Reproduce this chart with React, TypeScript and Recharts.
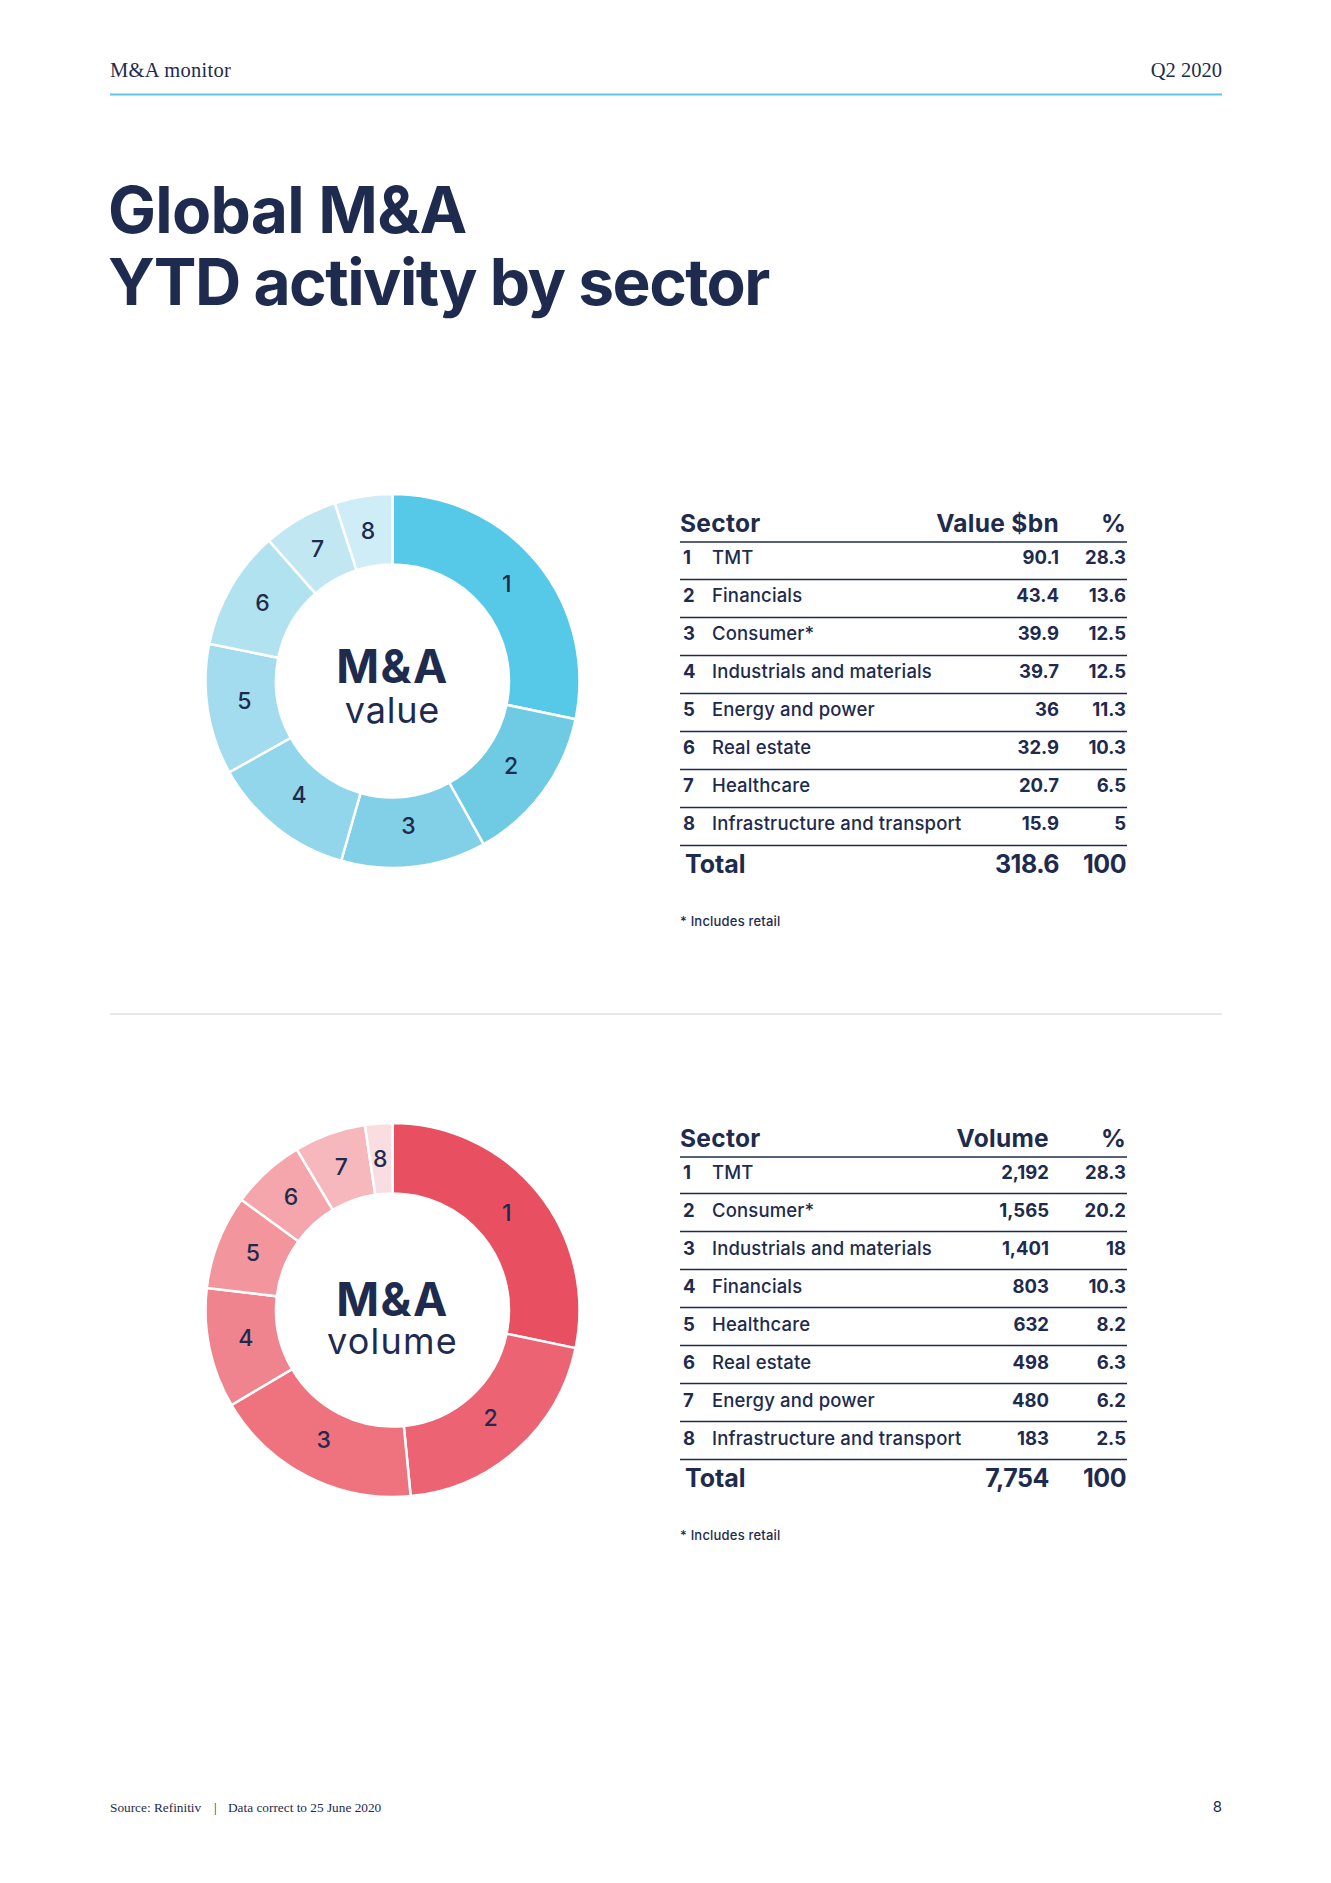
import { PieChart, Pie, Cell } from "recharts";

const NAVY = "#1E2B4E";
const SANS = "Inter, 'Noto Sans', sans-serif";
const SERIF = "'Liberation Serif', serif";

// --- data ---
const valueSectors = [
  "TMT",
  "Financials",
  "Consumer*",
  "Industrials and materials",
  "Energy and power",
  "Real estate",
  "Healthcare",
  "Infrastructure and transport",
];
const valueAmounts = [90.1, 43.4, 39.9, 39.7, 36, 32.9, 20.7, 15.9];
const valuePct = [28.3, 13.6, 12.5, 12.5, 11.3, 10.3, 6.5, 5];
const valueTotal = "318.6";

const volumeSectors = [
  "TMT",
  "Consumer*",
  "Industrials and materials",
  "Financials",
  "Healthcare",
  "Real estate",
  "Energy and power",
  "Infrastructure and transport",
];
const volumeCounts = [2192, 1565, 1401, 803, 632, 498, 480, 183];
const volumePct = [28.3, 20.2, 18, 10.3, 8.2, 6.3, 6.2, 2.5];
const volumeTotal = "7,754";

const blues = ["#57C9E8", "#6FCAE3", "#81D0E7", "#91D6EA", "#A2DCEE", "#B1E2F0", "#C1E7F3", "#CFEDF6"];
const reds = ["#E85061", "#EC6373", "#EE737F", "#F0848E", "#F2959D", "#F4A6AC", "#F6B8BD", "#FADDE0"];

const RADIAN = Math.PI / 180;

function sliceNumber(props: any) {
  const { cx, cy, midAngle, innerRadius, outerRadius, index } = props;
  const r = (innerRadius + outerRadius) / 2 - 3;
  const x = cx + r * Math.cos(-midAngle * RADIAN) - 1;
  const y = cy + r * Math.sin(-midAngle * RADIAN) - 3;
  return (
    <text
      x={x}
      y={y}
      fill={NAVY}
      textAnchor="middle"
      dominantBaseline="central"
      fontFamily={SANS}
      fontSize={23}
      fontWeight={500}
      letterSpacing={0.5}
    >
      {index + 1}
    </text>
  );
}

function Donut({ names, values, colors, centerY }: { names: string[]; values: number[]; colors: string[]; centerY: number }) {
  const data = names.map((name, i) => ({ name, value: values[i] }));
  return (
    <div style={{ position: "absolute", left: 192, top: centerY - 200 }}>
      <PieChart width={401} height={400} margin={{ top: 0, right: 0, bottom: 0, left: 0 }}>
        <Pie
          data={data}
          dataKey="value"
          cx={200.5}
          cy={200}
          startAngle={90}
          endAngle={-270}
          innerRadius={116.5}
          outerRadius={187}
          stroke="#ffffff"
          strokeWidth={2.5}
          label={sliceNumber}
          labelLine={false}
          isAnimationActive={false}
        >
          {data.map((d, i) => (
            <Cell key={d.name} fill={colors[i]} />
          ))}
        </Pie>
      </PieChart>
    </div>
  );
}

function SectorTable({
  top,
  header,
  valueRight,
  names,
  values,
  pct,
  total,
  rowStart,
  lineOffset,
}: {
  top: number;
  header: string;
  valueRight: number;
  names: string[];
  values: string[];
  pct: number[];
  total: string;
  rowStart: number;
  lineOffset: number;
}) {
  const headerLine = top + 10;
  const totalY = rowStart + 7 * 38 + lineOffset + 27;
  return (
    <g fill={NAVY} fontFamily={SANS}>
      <text x={680} y={top} fontSize={24.5} fontWeight={700} letterSpacing={0.3}>Sector</text>
      <text x={valueRight} y={top} fontSize={24.5} fontWeight={700} letterSpacing={0.3} textAnchor="end">{header}</text>
      <text x={1126} y={top} fontSize={24.5} fontWeight={700} textAnchor="end">%</text>
      <line x1={680} x2={1127} y1={headerLine} y2={headerLine} stroke={NAVY} strokeWidth={1.3} />
      {names.map((n, i) => {
        const y = rowStart + i * 38;
        return (
          <g key={n}>
            <text x={683} y={y} fontSize={18.5} fontWeight={700}>{i + 1}</text>
            <text x={712} y={y} fontSize={18.5} fontWeight={500} letterSpacing={0.15}>{n}</text>
            <text x={valueRight} y={y} fontSize={18.5} fontWeight={700} textAnchor="end">{values[i]}</text>
            <text x={1126} y={y} fontSize={18.5} fontWeight={700} textAnchor="end">{pct[i]}</text>
            <line x1={680} x2={1127} y1={y + lineOffset} y2={y + lineOffset} stroke={NAVY} strokeWidth={1.3} />
          </g>
        );
      })}
      <text x={685} y={totalY} fontSize={25} fontWeight={700}>Total</text>
      <text x={valueRight} y={totalY} fontSize={25} fontWeight={700} letterSpacing={-0.5} textAnchor="end">{total}</text>
      <text x={1126} y={totalY} fontSize={25} fontWeight={700} letterSpacing={-0.5} textAnchor="end">100</text>
      <text x={680} y={totalY + 53} fontSize={13} fontWeight={500} letterSpacing={0.2}>* Includes retail</text>
    </g>
  );
}

export default function App() {
  return (
    <div style={{ position: "absolute", left: 0, top: 0, width: 1331, height: 1883, background: "#fff", overflow: "hidden" }}>
      <svg width={1331} height={1883} style={{ position: "absolute", left: 0, top: 0 }}>
        <text x={110} y={77} fontFamily={SERIF} fontSize={20.5} fill={NAVY} letterSpacing={0.3}>M&amp;A monitor</text>
        <text x={1222} y={77} fontFamily={SERIF} fontSize={20.5} fill={NAVY} textAnchor="end">Q2 2020</text>
        <line x1={110} x2={1222} y1={94.5} y2={94.5} stroke="#5BC8E6" strokeWidth={2} />

        <text x={108} y={233} fontFamily={SANS} fontSize={64} fontWeight={700} fill={NAVY} letterSpacing={-0.7}>Global M&amp;A</text>
        <text x={108} y={305} fontFamily={SANS} fontSize={64} fontWeight={700} fill={NAVY} letterSpacing={-1.5}>YTD activity by sector</text>

        <text x={392.5} y={683} fontFamily={SANS} fontSize={46} fontWeight={700} fill={NAVY} textAnchor="middle" letterSpacing={1.5}>M&amp;A</text>
        <text x={392.5} y={723} fontFamily={SANS} fontSize={36} fontWeight={400} fill={NAVY} textAnchor="middle" letterSpacing={0.8}>value</text>

        <text x={392.5} y={1316} fontFamily={SANS} fontSize={46} fontWeight={700} fill={NAVY} textAnchor="middle" letterSpacing={1.5}>M&amp;A</text>
        <text x={392.5} y={1354} fontFamily={SANS} fontSize={36} fontWeight={400} fill={NAVY} textAnchor="middle" letterSpacing={1.2}>volume</text>

        <SectorTable
          top={532}
          header="Value $bn"
          valueRight={1059}
          names={valueSectors}
          values={valueAmounts.map(String)}
          pct={valuePct}
          total={valueTotal}
          rowStart={564}
          lineOffset={15.5}
        />

        <line x1={110} x2={1222} y1={1014} y2={1014} stroke="#E8E8EA" strokeWidth={2} />

        <SectorTable
          top={1147}
          header="Volume"
          valueRight={1049}
          names={volumeSectors}
          values={volumeCounts.map((v) => v.toLocaleString("en-US"))}
          pct={volumePct}
          total={volumeTotal}
          rowStart={1179}
          lineOffset={14.5}
        />

        <text x={110} y={1812} fontFamily={SERIF} fontSize={13.3} fill={NAVY}>Source: Refinitiv</text>
        <text x={214} y={1812} fontFamily={SERIF} fontSize={13.3} fill={NAVY}>|</text>
        <text x={228} y={1812} fontFamily={SERIF} fontSize={13.3} fill={NAVY}>Data correct to 25 June 2020</text>
        <text x={1222} y={1812} fontFamily={SANS} fontSize={15} fill={NAVY} textAnchor="end">8</text>
      </svg>

      <Donut names={valueSectors} values={valueAmounts} colors={blues} centerY={681} />
      <Donut names={volumeSectors} values={volumeCounts} colors={reds} centerY={1310} />
    </div>
  );
}
